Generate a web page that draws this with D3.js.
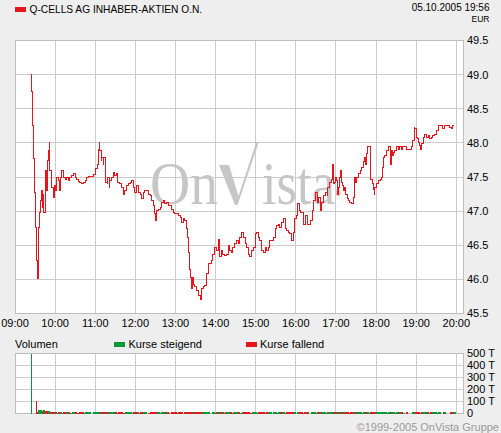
<!DOCTYPE html>
<html><head><meta charset="utf-8">
<script src="https://cdn.jsdelivr.net/npm/d3@7"></script>
<style>
html,body{margin:0;padding:0;background:#eeeeee;}
svg{display:block;font-family:"Liberation Sans",Arial,sans-serif;}
</style>
</head><body>
<svg id="c" width="501" height="433"></svg>
<script>
const titleText = "Q-CELLS AG INHABER-AKTIEN O.N.";
const stampText = "05.10.2005 19:56";
const currencyText = "EUR";
const copyrightText = "\u00A91999-2005 OnVista Gruppe";
const watermarkParts = ["On", "ista"];
const legendLabels = ["Volumen", "Kurse steigend", "Kurse fallend"];

const priceTicks = [45.5, 46.0, 46.5, 47.0, 47.5, 48.0, 48.5, 49.0, 49.5];
const hourTicks = ["09:00","10:00","11:00","12:00","13:00","14:00","15:00","16:00","17:00","18:00","19:00","20:00"];
const volumeTicks = [0, 100, 200, 300, 400, 500];
const timeDomain = ["09:00", "20:10"];

const times = [
"09:24","09:25","09:26","09:27","09:29","09:30","09:32","09:33","09:35","09:36",
"09:38","09:40","09:41","09:42","09:43","09:45","09:46","09:47","09:49","09:50",
"09:51","09:52","09:54","09:55","09:57","09:59","10:00","10:02","10:05","10:06",
"10:08","10:10","10:12","10:15","10:17","10:20","10:22","10:25","10:27","10:30",
"10:32","10:35","10:37","10:40","10:42","10:45","10:47","10:50","10:57","11:00",
"11:01","11:03","11:05","11:06","11:07","11:09","11:10","11:12","11:13","11:15",
"11:16","11:18","11:19","11:21","11:22","11:25","11:27","11:29","11:32","11:34",
"11:37","11:39","11:42","11:44","11:47","11:49","11:52","11:54","11:57","11:59",
"12:02","12:04","12:07","12:09","12:12","12:14","12:19","12:22","12:24","12:27",
"12:28","12:30","12:32","12:34","12:37","12:39","12:42","12:44","12:47","12:49",
"12:54","12:57","12:59","13:02","13:04","13:07","13:09","13:12","13:14","13:17",
"13:18","13:20","13:21","13:23","13:24","13:26","13:27","13:29","13:32","13:34",
"13:37","13:39","13:42","13:44","13:47","13:49","13:54","13:56","13:59","14:01",
"14:04","14:06","14:09","14:11","14:14","14:16","14:19","14:21","14:24","14:26",
"14:29","14:31","14:34","14:36","14:39","14:41","14:44","14:46","14:49","14:51",
"14:54","14:56","14:59","15:01","15:04","15:06","15:09","15:11","15:14","15:16",
"15:19","15:21","15:26","15:29","15:31","15:34","15:36","15:39","15:41","15:44",
"15:46","15:49","15:51","15:54","15:56","15:58","16:01","16:03","16:05","16:07",
"16:11","16:12","16:15","16:17","16:22","16:25","16:27","16:30","16:32","16:34",
"16:37","16:39","16:42","16:44","16:47","16:48","16:51","16:53","16:55","16:56",
"16:57","16:58","17:00","17:01","17:02","17:04","17:06","17:07","17:08","17:10",
"17:12","17:13","17:15","17:17","17:19","17:21","17:23","17:26","17:27","17:29",
"17:31","17:33","17:36","17:38","17:41","17:42","17:44","17:46","17:47","17:49",
"17:51","17:52","17:54","17:56","17:57","17:58","18:01","18:03","18:06","18:08",
"18:10","18:11","18:13","18:16","18:18","18:21","18:23","18:25","18:26","18:28",
"18:30","18:33","18:35","18:38","18:40","18:45","18:53","18:55","18:57","18:58",
"19:00","19:02","19:03","19:05","19:07","19:08","19:11","19:13","19:16","19:18",
"19:20","19:23","19:25","19:28","19:30","19:33","19:34","19:40","19:42","19:50",
"19:53","19:55","19:56"];

const prices = [
49.00,48.76,48.25,47.77,47.27,46.76,46.28,46.01,46.76,46.98,
47.16,47.30,47.06,47.25,46.98,47.45,47.60,47.30,47.74,47.89,
48.01,47.60,47.50,47.35,47.20,47.38,47.30,47.50,47.45,47.30,
47.50,47.60,47.50,47.47,47.50,47.45,47.50,47.52,47.55,47.50,
47.47,47.44,47.42,47.40,47.42,47.45,47.50,47.51,47.54,47.55,
47.62,47.69,47.91,48.00,47.89,47.74,47.79,47.69,47.79,47.69,
47.42,47.40,47.50,47.35,47.45,47.50,47.57,47.52,47.55,47.42,
47.40,47.35,47.25,47.30,47.38,47.40,47.42,47.45,47.35,47.28,
47.38,47.28,47.25,47.18,47.28,47.30,47.25,47.23,47.16,47.08,
46.96,46.86,47.01,47.03,47.06,47.13,47.16,47.11,47.13,47.08,
47.03,46.98,46.96,46.97,46.94,46.91,46.84,46.89,46.86,46.74,
46.62,46.40,46.15,46.03,45.86,46.03,45.93,45.89,45.84,45.76,
45.71,45.86,45.89,45.91,46.08,46.23,46.28,46.37,46.47,46.42,
46.59,46.33,46.42,46.37,46.35,46.37,46.50,46.42,46.40,46.47,
46.52,46.57,46.52,46.62,46.69,46.62,46.52,46.47,46.37,46.33,
46.42,46.47,46.67,46.69,46.62,46.57,46.42,46.40,46.47,46.42,
46.47,46.57,46.62,46.74,46.79,46.81,46.76,46.84,46.89,46.74,
46.72,46.69,46.67,46.57,46.69,46.89,46.94,47.11,47.01,46.98,
46.96,46.81,46.94,46.81,46.86,47.01,47.16,47.28,47.13,47.20,
47.01,47.13,47.23,47.28,47.23,47.35,47.42,47.47,47.69,47.55,
47.40,47.42,47.50,47.45,47.25,47.35,47.50,47.60,47.42,47.38,
47.30,47.35,47.25,47.18,47.16,47.13,47.11,47.20,47.50,47.42,
47.50,47.55,47.60,47.64,47.72,47.79,47.69,47.84,47.94,47.94,
47.55,47.47,47.40,47.32,47.25,47.35,47.40,47.45,47.47,47.50,
47.64,47.79,47.82,47.89,47.94,47.69,47.89,47.82,47.86,47.89,
47.94,47.91,47.94,47.91,47.94,47.91,47.94,48.03,48.23,48.21,
48.08,48.06,48.01,47.96,47.91,47.99,48.08,48.13,48.08,48.11,
48.06,48.08,48.11,48.13,48.18,48.21,48.25,48.21,48.25,48.23,
48.21,48.25,48.25];

// volume in thousands (T)
const volumes = [
620,0,0,0,0,0,108,14,28,26,
30,24,22,26,18,20,16,22,18,20,
12,14,10,12,14,10,12,8,10,12,
10,8,12,9,10,11,8,10,9,12,
8,10,9,11,8,10,12,9,10,11,
12,10,14,12,10,9,11,10,8,12,
10,9,11,8,10,12,9,10,8,11,
9,10,8,11,9,10,12,8,10,9,
11,8,10,9,12,10,8,11,9,10,
12,10,9,11,8,10,9,12,10,8,
10,9,11,8,10,12,9,10,11,9,
10,12,11,9,12,10,8,11,9,10,
12,10,9,11,10,12,9,10,8,11,
9,10,12,8,10,9,11,10,8,12,
10,9,11,8,10,12,9,10,11,8,
9,11,10,8,12,9,10,11,8,10,
12,9,10,11,8,10,9,12,10,8,
11,9,10,12,8,10,11,9,10,12,
8,10,9,11,10,12,9,8,10,11,
9,10,12,8,11,9,10,12,11,9,
10,8,11,9,12,10,9,11,8,10,
12,9,10,11,8,10,12,9,11,10,
9,10,12,8,10,11,9,12,10,8,
11,10,9,12,8,10,11,9,10,12,
9,11,10,8,12,10,9,11,10,8,
10,12,9,11,8,10,9,12,10,11,
9,10,12,8,11,10,9,12,10,8,
11,9,10,12,8,10,11,9,12,10,
9,11,10];

const RED = "#e8141b", GREEN = "#00993a", GRID = "#cccccc", BORDER = "#bdbdbd", WM = "#c6c6c6";
const parse = s => { const [h, m] = s.split(":").map(Number); return new Date(2005, 9, 5, h, m); };

const data = times.map((t, i) => ({ t: parse(t), p: prices[i], v: volumes[i],
  up: i === 0 || prices[i] >= prices[i - 1] }));

const svg = d3.select("#c");
const L = 15, R = 463, T = 40, B = 313, VT = 353, VB = 413;

const x = d3.scaleTime().domain(timeDomain.map(parse)).range([L, R]);
const y = d3.scaleLinear().domain([45.5, 49.5]).range([B + 0.5, T + 0.5]);
const yv = d3.scaleLinear().domain([0, 500]).range([VB + 0.5, VT + 0.5]);
const px = v => Math.floor(v) + 0.5;

svg.append("rect").attr("width", 501).attr("height", 433).attr("fill", "#eeeeee");

// ---- header
svg.append("rect").attr("x", 15).attr("y", 7).attr("width", 11).attr("height", 5).attr("fill", RED);
svg.append("text").attr("x", 29.5).attr("y", 13).attr("font-size", "10.2px").attr("fill", "#000").text(titleText);
svg.append("text").attr("x", 489.5).attr("y", 10.5).attr("font-size", "10px").attr("text-anchor", "end").text(stampText);
svg.append("text").attr("x", 489.5).attr("y", 21.5).attr("font-size", "8.5px").attr("text-anchor", "end").text(currencyText);

// ---- price panel
const gP = svg.append("g");
gP.append("rect").attr("x", L + 0.5).attr("y", T + 0.5).attr("width", R - L).attr("height", B - T)
  .attr("fill", "#fff");
gP.selectAll("line.h").data(priceTicks).join("line").attr("class", "h")
  .attr("x1", L).attr("x2", R).attr("y1", d => px(y(d))).attr("y2", d => px(y(d)))
  .attr("stroke", GRID).attr("shape-rendering", "crispEdges");
gP.selectAll("line.v").data(hourTicks.slice(1)).join("line").attr("class", "v")
  .attr("x1", d => px(x(parse(d)))).attr("x2", d => px(x(parse(d)))).attr("y1", T).attr("y2", B)
  .attr("stroke", GRID).attr("shape-rendering", "crispEdges");
gP.append("rect").attr("x", L + 0.5).attr("y", T + 0.5).attr("width", R - L).attr("height", B - T)
  .attr("fill", "none").attr("stroke", BORDER).attr("shape-rendering", "crispEdges");

// watermark "OnVista" (V drawn as a check-mark stroke)
const wm = gP.append("g").attr("fill", WM);
wm.append("text").attr("x", 150).attr("y", 204).attr("font-family", "'Liberation Serif','Times New Roman',serif")
  .attr("font-size", "62px").attr("textLength", 68).attr("lengthAdjust", "spacingAndGlyphs").text(watermarkParts[0]);
wm.append("path").attr("d", "M219,165 L229,165 L238.5,196 L256,143 L258.5,143 L237.5,205 L235,205 Z");
wm.append("text").attr("x", 262).attr("y", 204).attr("font-family", "'Liberation Serif','Times New Roman',serif")
  .attr("font-size", "62px").attr("textLength", 73).attr("lengthAdjust", "spacingAndGlyphs").text(watermarkParts[1]);
gP.append("circle").attr("cx", 338).attr("cy", 193).attr("r", 3).attr("fill", "#f2c8c8");

// price line
const line = d3.line().x(d => x(d.t)).y(d => y(d.p)).curve(d3.curveStepAfter);
gP.append("path").datum(data).attr("d", line).attr("fill", "none").attr("stroke", RED)
  .attr("stroke-width", 1).attr("shape-rendering", "crispEdges");

// axes labels
gP.selectAll("text.yl").data(priceTicks).join("text").attr("class", "yl")
  .attr("x", 467).attr("y", d => y(d)).attr("dy", "0.36em").attr("font-size", "11px")
  .text(d => d3.format(".1f")(d));
svg.selectAll("text.xl").data(hourTicks).join("text").attr("class", "xl")
  .attr("x", d => x(parse(d))).attr("y", 326.5).attr("text-anchor", "middle").attr("font-size", "11px")
  .text(d => d);

// ---- legend
svg.append("text").attr("x", 15).attr("y", 347.5).attr("font-size", "11px").text(legendLabels[0]);
svg.append("rect").attr("x", 114).attr("y", 342).attr("width", 11).attr("height", 5).attr("fill", GREEN);
svg.append("text").attr("x", 128.5).attr("y", 347.5).attr("font-size", "11px").text(legendLabels[1]);
svg.append("rect").attr("x", 246).attr("y", 342).attr("width", 11).attr("height", 5).attr("fill", RED);
svg.append("text").attr("x", 260).attr("y", 347.5).attr("font-size", "11px").text(legendLabels[2]);

// ---- volume panel
const gV = svg.append("g");
gV.append("rect").attr("x", L + 0.5).attr("y", VT + 0.5).attr("width", R - L).attr("height", VB - VT).attr("fill", "#fff");
gV.selectAll("line.h").data(volumeTicks).join("line").attr("class", "h")
  .attr("x1", L).attr("x2", R).attr("y1", d => px(yv(d))).attr("y2", d => px(yv(d)))
  .attr("stroke", GRID).attr("shape-rendering", "crispEdges");
gV.selectAll("line.v").data(hourTicks.slice(1)).join("line").attr("class", "v")
  .attr("x1", d => px(x(parse(d)))).attr("x2", d => px(x(parse(d)))).attr("y1", VT).attr("y2", VB)
  .attr("stroke", GRID).attr("shape-rendering", "crispEdges");
gV.append("rect").attr("x", L + 0.5).attr("y", VT + 0.5).attr("width", R - L).attr("height", VB - VT)
  .attr("fill", "none").attr("stroke", BORDER).attr("shape-rendering", "crispEdges");
gV.selectAll("rect.bar").data(data.filter(d => d.v > 0)).join("rect").attr("class", "bar")
  .attr("x", d => Math.round(x(d.t)))
  .attr("width", d => d.v > 50 ? 1 : 2)
  .attr("y", d => Math.round(yv(Math.min(d.v, 500))))
  .attr("height", d => Math.max(1, VB + 1 - Math.round(yv(Math.min(d.v, 500)))))
  .attr("fill", d => d.up ? GREEN : RED).attr("shape-rendering", "crispEdges");
gV.selectAll("text.vl").data(volumeTicks).join("text").attr("class", "vl")
  .attr("x", 467).attr("y", d => yv(d)).attr("dy", "0.36em").attr("font-size", "11px")
  .text(d => d === 0 ? "0" : d + " T");

// ---- copyright
svg.append("text").attr("x", 499).attr("y", 430.5).attr("text-anchor", "end").attr("font-size", "11px")
  .attr("fill", "#9a9a9a").text(copyrightText);
</script>
</body></html>
